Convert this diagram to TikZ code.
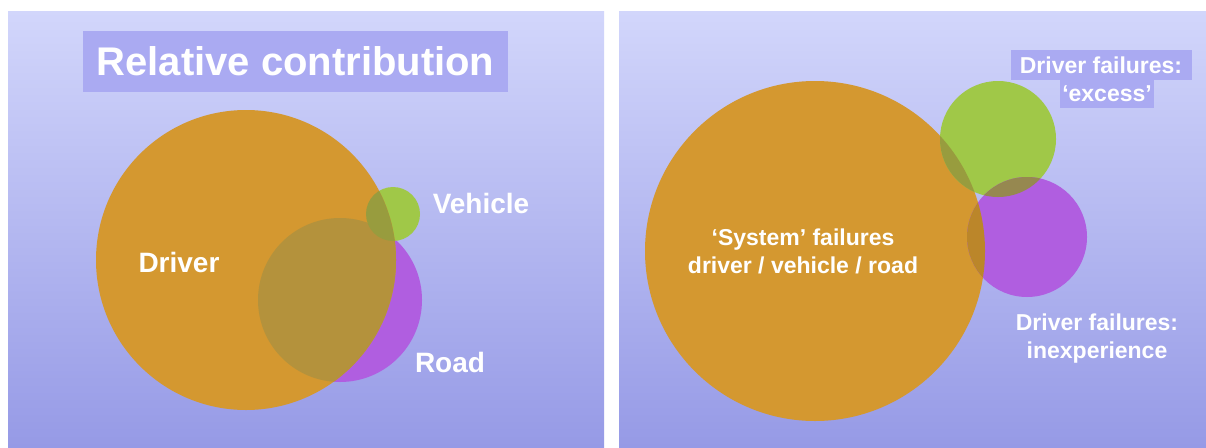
\documentclass[tikz,border=0pt]{standalone}
\usepackage{fontspec}
\setsansfont{Liberation Sans}

% panel colours
\definecolor{bgtop}{RGB}{210,214,251}
\definecolor{bgbot}{RGB}{150,154,230}
\definecolor{boxblue}{RGB}{170,170,242}
% set colours and their overlaps
\definecolor{setorange}{RGB}{212,152,48}
\definecolor{setgreen}{RGB}{160,200,72}
\definecolor{setpurple}{RGB}{176,94,224}
\definecolor{mixorgr}{RGB}{152,156,62}
\definecolor{mixorpu}{RGB}{180,146,60}
\definecolor{mixgrpu}{RGB}{150,136,80}

\begin{document}
\begin{tikzpicture}[x=1pt,y=-1pt,font=\sffamily\bfseries,
    lbl/.style={text=white,inner sep=0pt,align=center},
    big/.style={lbl,font=\sffamily\bfseries\fontsize{28}{32}\selectfont},
    small/.style={lbl,font=\sffamily\bfseries\fontsize{23}{28}\selectfont}]

    \useasboundingbox (0,0) rectangle (1206,447);
    \fill[white] (0,0) rectangle (1206,447);

    % Panels: shaded backgrounds
    \shade[top color=bgtop,bottom color=bgbot] (8,11) rectangle (604,447);
    \shade[top color=bgtop,bottom color=bgbot] (619,11) rectangle (1206,447);

    % Left panel: driver, vehicle, road
    \path[fill=setpurple] (340,300) circle (82pt);
    \path[fill=setgreen] (393,214) circle (27pt);
    \path[fill=setorange] (246,260) circle (150pt);
    \begin{scope}
        \clip (246,260) circle (150pt);
        \path[fill=mixorpu] (340,300) circle (82pt);
        \path[fill=mixorgr] (393,214) circle (27pt);
    \end{scope}

    % Title
    \node[lbl,fill=boxblue,minimum width=425pt,minimum height=61pt,
        font=\sffamily\bfseries\fontsize{40}{44}\selectfont] (title) at (295.5,61.5) {Relative contribution};

    % Set names
    \node[big] (driver) at (179,262) {Driver};
    \node[big] (vehicle) at (481,203) {Vehicle};
    \node[big] (road) at (450,362) {Road};

    % Right panel: system failures, excess, inexperience
    \path[fill=setorange] (815,251) circle (170pt);
    \path[fill=setgreen] (998,139) circle (58pt);
    \path[fill=setpurple] (1027,237) circle (60pt);
    \begin{scope}
        \clip (815,251) circle (170pt);
        \path[fill=mixorgr] (998,139) circle (58pt);
        \path[fill=setorange!88!black] (1027,237) circle (60pt);
    \end{scope}
    \begin{scope}
        \clip (998,139) circle (58pt);
        \path[fill=mixgrpu] (1027,237) circle (60pt);
    \end{scope}

    \node[small] (system) at (803,251) {‘System’ failures\\driver / vehicle / road};

    % Label boxes, one per line
    \node[small,fill=boxblue,minimum width=181pt,minimum height=30pt] (excesstop) at (1101,65) {Driver failures:};
    \node[small,fill=boxblue,minimum width=94pt,minimum height=28pt] (excessbot) at (1107,94) {‘excess’};

    \node[small] (inexp) at (1097,339) {Driver failures:\\inexperience};
\end{tikzpicture}
\end{document}
